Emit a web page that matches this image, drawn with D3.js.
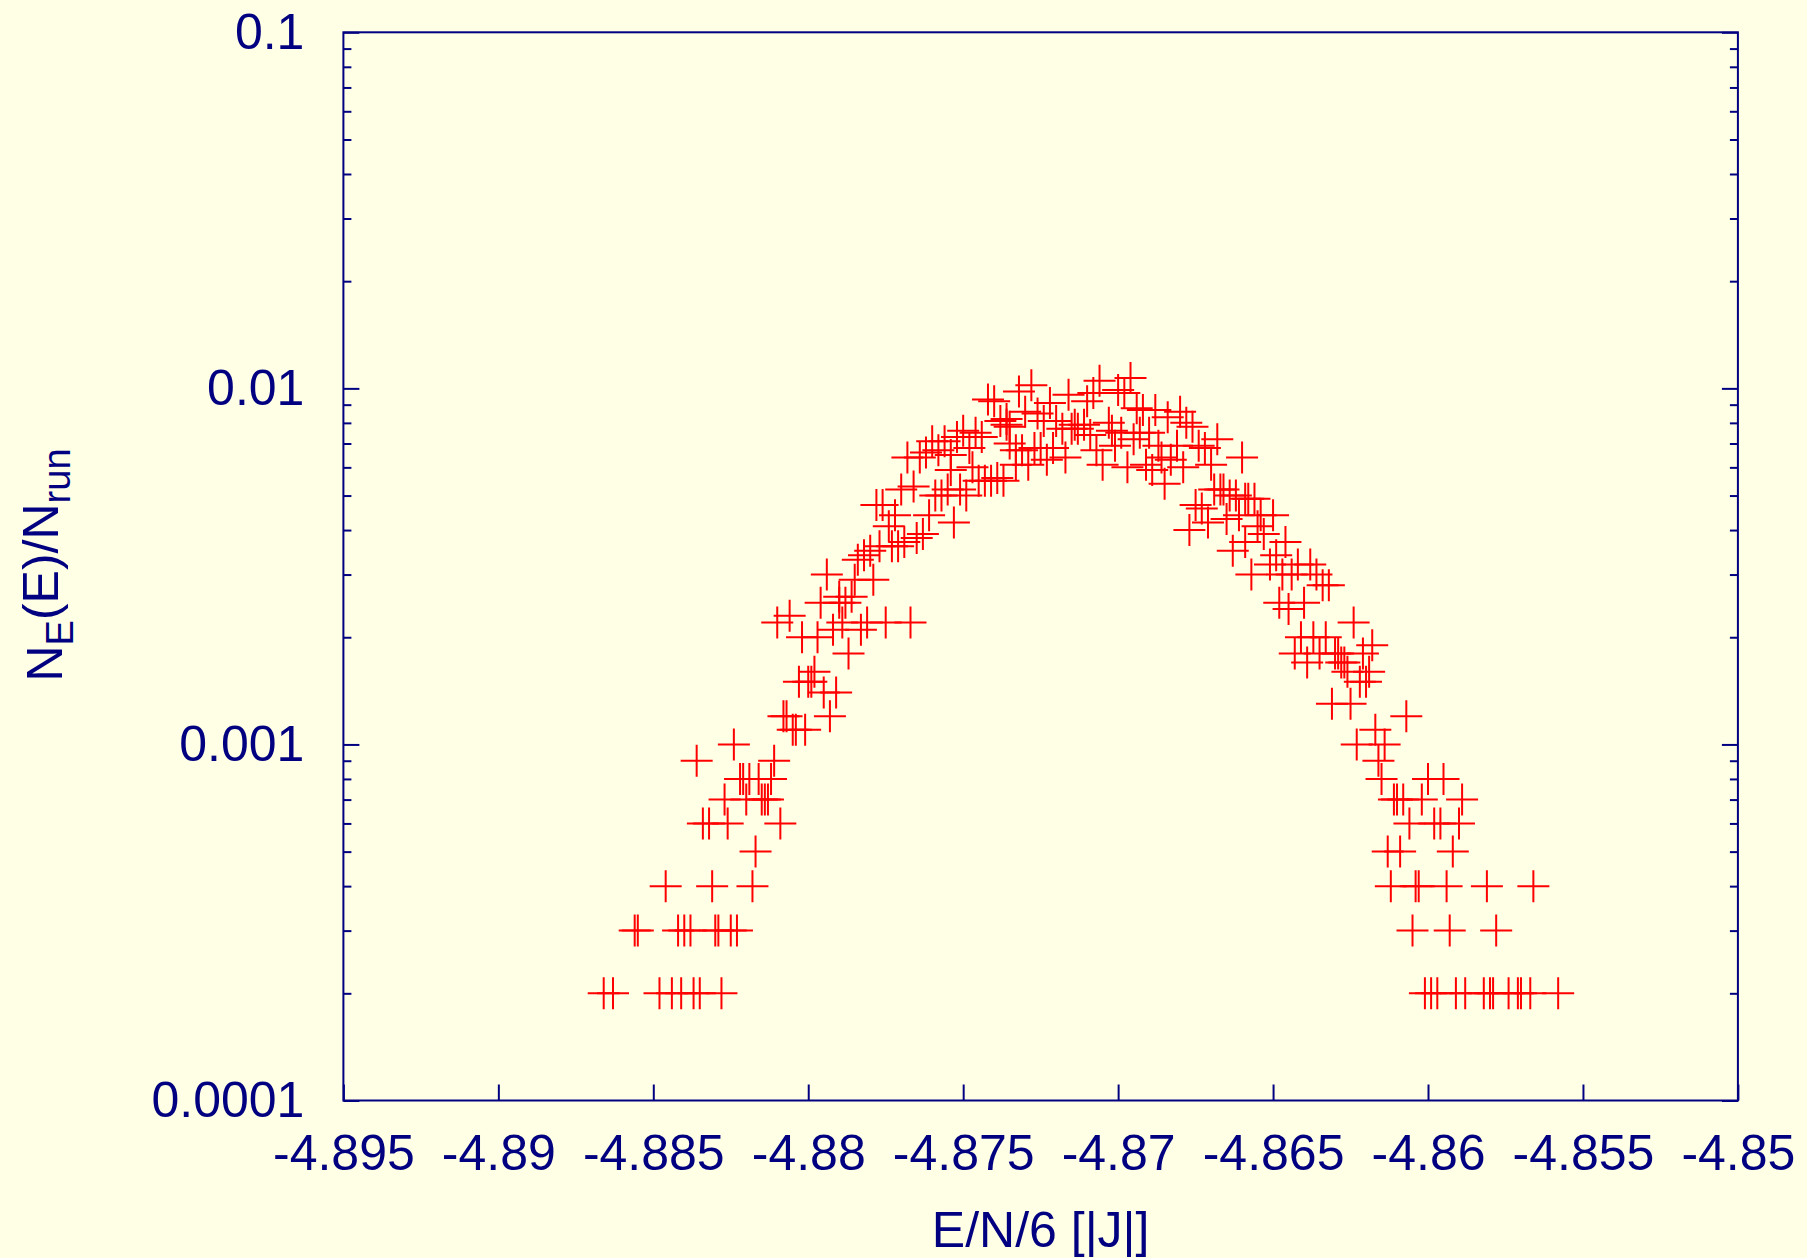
<!DOCTYPE html>
<html>
<head>
<meta charset="utf-8">
<script src="https://cdn.jsdelivr.net/npm/d3@7"></script>
<style>
  body { margin: 0; background: #ffffe6; }
  svg { display: block; }
  text { font-family: "Liberation Sans", Arial, Helvetica, sans-serif; fill: #000080; }
</style>
</head>
<body>
<div id="chart"></div>
<script>
// energy per spin (x) and fraction of runs N_E(E)/N_run (y)
var energy = [
  -4.8866,-4.8863,-4.8848,-4.8844,-4.8841,-4.8837,-4.8835,-4.8828,
  -4.8856,-4.8855,-4.8842,-4.8840,-4.8838,-4.8830,-4.8829,-4.8825,-4.8823,
  -4.8846,-4.8831,-4.8818,-4.8817,
  -4.8834,-4.8832,-4.8826,-4.8809,
  -4.8827,-4.8820,-4.8815,-4.8814,-4.8813,
  -4.8822,-4.8821,-4.8819,-4.8816,-4.8812,
  -4.8836,-4.8811,-4.8824,
  -4.8805,-4.8804,-4.8801,-4.8808,-4.8807,-4.8793,
  -4.8795,-4.8791,-4.8803,-4.8800,-4.8799,-4.8798,-4.8787,
  -4.8802,-4.8797,-4.8792,-4.8783,
  -4.8810,-4.8789,-4.8781,-4.8775,-4.8767,-4.8806,
  -4.8796,-4.8790,-4.8788,-4.8790,-4.8786,
  -4.8785,-4.8779,-4.8794,-4.8784,-4.8782,-4.8780,
  -4.8777,-4.8773,-4.8771,-4.8769,-4.8765,-4.8763,-4.8774,-4.8753,
  -4.8772,-4.8761,-4.8778,-4.8776,
  -4.8759,-4.8757,-4.8749,-4.8770,-4.8755,-4.8751,-4.8766,
  -4.8745,-4.8743,-4.8741,-4.8737,-4.8739,
  -4.8754,-4.8747,-4.8768,-4.8764,-4.8754,-4.8762,-4.8758,-4.8748,
  -4.8760,-4.8756,-4.8752,-4.8744,-4.8746,-4.8750,
  -4.8736,-4.8738,-4.8740,-4.8742,
  -4.8696,-4.8706,-4.8728,-4.8700,-4.8732,-4.8708,-4.8698,-4.8716,-4.8710,-4.8722,
  -4.8694,-4.8692,-4.8688,-4.8730,-4.8680,-4.8726,-4.8684,-4.8736,-4.8724,-4.8720,
  -4.8703,-4.8678,-4.8714,-4.8711,-4.8735,-4.8676,-4.8718,-4.8715,-4.8713,-4.8702,
  -4.8699,-4.8693,-4.8690,-4.8709,-4.8695,-4.8668,-4.8735,-4.8701,-4.8687,-4.8681,
  -4.8674,-4.8727,-4.8725,-4.8721,-4.8672,-4.8733,-4.8731,-4.8707,-4.8717,-4.8686,
  -4.8660,-4.8723,-4.8683,-4.8733,-4.8729,-4.8705,-4.8691,-4.8670,-4.8697,-4.8679,
  -4.8689,-4.8685,
  -4.8669,-4.8667,-4.8666,-4.8664,-4.8662,-4.8659,-4.8658,-4.8656,-4.8675,-4.8673,
  -4.8661,-4.8654,-4.8650,-4.8665,-4.8671,-4.8655,-4.8677,-4.8653,-4.8659,-4.8646,
  -4.8663,-4.8649,-4.8651,-4.8642,-4.8638,-4.8657,-4.8647,-4.8644,-4.8636,-4.8634,
  -4.8632,-4.8648,-4.8640,-4.8645,-4.8624,-4.8641,-4.8637,-4.8633,-4.8618,-4.8643,
  -4.8635,-4.8630,-4.8629,-4.8621,-4.8639,-4.8628,-4.8627,-4.8626,-4.8619,-4.8622,
  -4.8620,-4.8631,-4.8625,-4.8607,-4.8617,-4.8623,-4.8614,-4.8616,
  -4.8615,-4.8600,-4.8595,-4.8611,-4.8610,-4.8608,-4.8602,-4.8589,
  -4.8606,-4.8598,-4.8596,-4.8590,-4.8613,-4.8609,-4.8592,
  -4.8612,-4.8604,-4.8603,-4.8594,-4.8581,-4.8566,
  -4.8605,-4.8593,-4.8578,
  -4.8601,-4.8599,-4.8597,-4.8591,-4.8588,-4.8582,-4.8580,-4.8579,-4.8574,-4.8571,
  -4.8570,-4.8567,-4.8558
];
var fraction = [
  0.0002,0.0002,0.0002,0.0002,0.0002,0.0002,0.0002,0.0002,
  0.0003,0.0003,0.0003,0.0003,0.0003,0.0003,0.0003,0.0003,0.0003,
  0.0004,0.0004,0.0004,0.0005,
  0.0006,0.0006,0.0006,0.0006,
  0.0007,0.0007,0.0007,0.0007,0.0007,
  0.0008,0.0008,0.0008,0.0008,0.0008,
  0.0009,0.0009,0.0010,
  0.0011,0.0011,0.0011,0.0012,0.0012,0.0012,
  0.0014,0.0014,0.0015,0.0015,0.0015,0.0016,0.0018,
  0.0020,0.0020,0.0021,0.0021,
  0.0022,0.0022,0.0022,0.0022,0.0022,0.0023,
  0.0025,0.0025,0.0025,0.0026,0.0026,
  0.0029,0.0029,0.0030,0.0033,0.0034,0.0035,
  0.0036,0.0036,0.0036,0.0037,0.0038,0.0039,0.0041,0.0042,
  0.0044,0.0044,0.0047,0.0047,
  0.0050,0.0050,0.0050,0.0052,0.0052,0.0052,0.0053,
  0.0055,0.0055,0.0055,0.0055,0.0056,
  0.0059,0.0060,0.0064,0.0064,0.0065,0.0066,0.0067,0.0068,
  0.0071,0.0071,0.0073,0.0073,0.0075,0.0076,
  0.0079,0.0081,0.0092,0.0093,
  0.0107,0.0105,0.0102,0.0099,0.0098,0.0097,0.0097,0.0096,0.0092,0.0091,
  0.0088,0.0087,0.0087,0.0086,0.0086,0.0085,0.0083,0.0082,0.0081,0.0081,
  0.0080,0.0080,0.0079,0.0079,0.0078,0.0078,0.0077,0.0077,0.0077,0.0076,
  0.0075,0.0075,0.0075,0.0074,0.0072,0.0072,0.0070,0.0069,0.0069,0.0069,
  0.0069,0.0068,0.0068,0.0068,0.0068,0.0067,0.0067,0.0067,0.0064,0.0064,
  0.0064,0.0063,0.0063,0.0061,0.0061,0.0061,0.0061,0.0061,0.0060,0.0060,
  0.0059,0.0054,
  0.0052,0.0052,0.0052,0.0050,0.0050,0.0049,0.0049,0.0049,0.0047,0.0046,
  0.0044,0.0044,0.0044,0.0043,0.0042,0.0041,0.0040,0.0039,0.0037,0.0037,
  0.0035,0.0034,0.0032,0.0032,0.0032,0.0030,0.0030,0.0030,0.0030,0.0028,
  0.0028,0.0025,0.0025,0.0024,0.0022,0.0020,0.0020,0.0020,0.0019,0.0018,
  0.0018,0.0018,0.0018,0.0018,0.0017,0.0017,0.0017,0.0016,0.0016,0.0015,
  0.0015,0.0013,0.0013,0.0012,0.0011,0.0010,0.0010,0.0009,
  0.0008,0.0008,0.0008,0.0007,0.0007,0.0007,0.0007,0.0007,
  0.0006,0.0006,0.0006,0.0006,0.0005,0.0005,0.0005,
  0.0004,0.0004,0.0004,0.0004,0.0004,0.0004,
  0.0003,0.0003,0.0003,
  0.0002,0.0002,0.0002,0.0002,0.0002,0.0002,0.0002,0.0002,0.0002,0.0002,
  0.0002,0.0002,0.0002
];

var xTicks = [-4.895, -4.89, -4.885, -4.88, -4.875, -4.87, -4.865, -4.86, -4.855, -4.85];
var xTickLabels = ["-4.895", "-4.89", "-4.885", "-4.88", "-4.875", "-4.87", "-4.865", "-4.86", "-4.855", "-4.85"];
var yTicks = [0.0001, 0.001, 0.01, 0.1];
var yTickLabels = ["0.0001", "0.001", "0.01", "0.1"];

var points = energy.map(function(e, i) { return {e: e, f: fraction[i]}; });

var W = 1807, H = 1258;
var margin = {top: 32.3, right: 69.1, bottom: 157.5, left: 343.4};
var width = W - margin.left - margin.right,
    height = H - margin.top - margin.bottom;
var navy = "#000080";

var svg = d3.select("#chart")
    .append("svg")
    .attr("width", W)
    .attr("height", H)
    .style("background", "#ffffe6");

var g = svg.append("g")
    .attr("transform", "translate(" + margin.left + "," + margin.top + ")");

var xScale = d3.scaleLinear().domain([-4.895, -4.85]).range([0, width]);
var yScale = d3.scaleLog().domain([0.0001, 0.1]).range([height, 0]);

// minor y ticks 2..9 of every decade
var yMinor = [];
[0.0001, 0.001, 0.01].forEach(function(d) {
    for (var k = 2; k <= 9; k++) yMinor.push(d * k);
});

function styleAxis(sel) {
    sel.select(".domain").remove();
    sel.selectAll("line").attr("stroke", navy).attr("stroke-width", 2);
    sel.selectAll("text")
        .style("font-size", "50px")
        .attr("fill", navy);
}

var xAxis = d3.axisBottom(xScale)
    .tickValues(xTicks)
    .tickSizeInner(-16)
    .tickSizeOuter(0)
    .tickPadding(34)
    .tickFormat(function(d, i) { return xTickLabels[i]; });

g.append("g")
    .attr("class", "x axis")
    .attr("transform", "translate(0," + height + ")")
    .call(xAxis)
    .call(styleAxis);

var yAxis = d3.axisLeft(yScale)
    .tickValues(yTicks)
    .tickSizeInner(-16)
    .tickSizeOuter(0)
    .tickPadding(39)
    .tickFormat(function(d, i) { return yTickLabels[i]; });

g.append("g")
    .attr("class", "y axis")
    .call(yAxis)
    .call(styleAxis);

g.append("g")
    .attr("class", "y minor")
    .call(d3.axisLeft(yScale).tickValues(yMinor).tickSizeInner(-8).tickSizeOuter(0).tickFormat(""))
    .call(styleAxis);

g.append("g")
    .attr("class", "y2 axis")
    .attr("transform", "translate(" + width + ",0)")
    .call(d3.axisRight(yScale).tickValues(yTicks).tickSizeInner(-16).tickSizeOuter(0).tickFormat(""))
    .call(styleAxis);

g.append("g")
    .attr("class", "y2 minor")
    .attr("transform", "translate(" + width + ",0)")
    .call(d3.axisRight(yScale).tickValues(yMinor).tickSizeInner(-8).tickSizeOuter(0).tickFormat(""))
    .call(styleAxis);

// frame
g.append("rect")
    .attr("width", width)
    .attr("height", height)
    .attr("fill", "none")
    .attr("stroke", navy)
    .attr("stroke-width", 2);

// plus markers
g.append("g")
    .attr("class", "points")
    .selectAll("path")
    .data(points)
    .enter()
    .append("path")
    .attr("transform", function(d) { return "translate(" + xScale(d.e) + "," + yScale(d.f) + ")"; })
    .attr("d", "M-16,0H16M0,-16V16")
    .attr("stroke", "#ff0000")
    .attr("stroke-width", 2)
    .attr("fill", "none");

// axis titles
svg.append("text")
    .attr("x", margin.left + width / 2)
    .attr("y", 1247)
    .attr("text-anchor", "middle")
    .style("font-size", "50px")
    .text("E/N/6 [|J|]");

var ylab = svg.append("text")
    .attr("transform", "translate(62,565) rotate(-90)")
    .attr("text-anchor", "middle")
    .style("font-size", "50px");
ylab.append("tspan").text("N");
ylab.append("tspan").attr("dy", "0.3em").style("font-size", "38px").text("E");
ylab.append("tspan").attr("dy", "-0.3em").text("(E)/N");
ylab.append("tspan").attr("dy", "0.3em").style("font-size", "38px").text("run");
</script>
</body>
</html>
